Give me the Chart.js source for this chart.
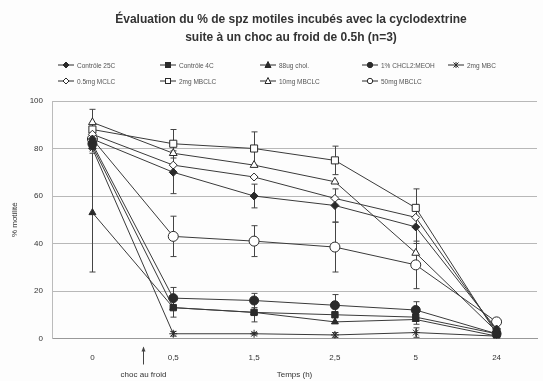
<!DOCTYPE html>
<html lang="fr">
<head>
<meta charset="utf-8"/>
<title>Évaluation du % de spz motiles</title>
<script src="https://cdn.jsdelivr.net/npm/chart.js"></script>
<style>
html, body { margin: 0; padding: 0; background: #fdfdfd; }
#wrap { position: relative; width: 543px; height: 381px; font-family: "Liberation Sans", Arial, sans-serif; }
#chart { position: absolute; left: 0; top: 0; }
#title { position: absolute; left: 0; top: 10px; width: 582px; text-align: center; font-weight: bold; font-size: 12px; line-height: 18px; color: #333; }
#legend { position: absolute; left: 58px; top: 57px; display: grid; grid-template-columns: 102px 100px 102px 86px 80px; grid-auto-rows: 16px; font-size: 6.5px; color: #555; }
#legend div { display: flex; align-items: center; white-space: nowrap; }
#legend svg { margin-right: 3px; }
</style>
</head>
<body>
<div id="wrap">
  <canvas id="chart" width="543" height="381"></canvas>
  <div id="title">Évaluation du % de spz motiles incubés avec la cyclodextrine<br>suite à un choc au froid de 0.5h (n=3)</div>
  <div id="legend"></div>
</div>
<script>
"use strict";
// temps (h)
const times = ["0", "0,5", "1,5", "2,5", "5", "24"];

const names = ["Contrôle 25C", "Contrôle 4C", "88ug chol.", "1% CHCL2:MEOH", "2mg MBC",
               "0.5mg MCLC", "2mg MBCLC", "10mg MBCLC", "50mg MBCLC"];

// % motilité
const controle25 = [84, 70, 60, 56, 47, 4];
const controle4  = [81, 13, 11, 10, 9, 2];
const chol88     = [53, 13, 11, 7, 8, 1];
const chcl2meoh  = [82, 17, 16, 14, 12, 2];
const mbc2       = [80, 2, 2, 1.5, 2.5, 1];
const mclc05     = [86, 73, 68, 59, 51, 3];
const mbclc2     = [88, 82, 80, 75, 55, 2];
const mbclc10    = [91, 78, 73, 66, 36, 3];
const mbclc50    = [84, 43, 41, 38.5, 31, 7];

// écart (+/-)
const errControle25 = [null, 9, 5, 7, 7, null];
const errControle4  = [null, 4, 4, 3, 3, null];
const errChol88     = [25, null, null, null, null, null];
const errChcl2meoh  = [null, 4.5, 3, 4.5, 3.5, null];
const errMbc2       = [null, 1, 0.5, 1, 2, null];
const errMbclc2     = [null, 6, 7, 6, 8, null];
const errMbclc10    = [5.5, null, null, null, null, null];
const errMbclc50    = [null, 8.5, 6.5, 10.5, 10, null];

const series = [controle25, controle4, chol88, chcl2meoh, mbc2, mclc05, mbclc2, mbclc10, mbclc50];
const errors = [errControle25, errControle4, errChol88, errChcl2meoh, errMbc2, null, errMbclc2, errMbclc10, errMbclc50];
const shapes = ["rectRot", "rect", "triangle", "circle", "star", "rectRot", "rect", "triangle", "circle"];
const filled = [true, true, true, true, true, false, false, false, false];
const radii  = [4, 4.5, 4, 4.5, 4, 4, 5, 4.5, 5];

const INK = "#2a2a2a";

const datasets = series.map((d, i) => ({
  label: names[i],
  data: d,
  errors: errors[i],
  borderColor: "#3a3a3a",
  borderWidth: 1,
  pointStyle: shapes[i],
  pointRadius: radii[i],
  pointBorderColor: INK,
  pointBorderWidth: 1,
  pointBackgroundColor: filled[i] ? INK : "#ffffff",
  tension: 0
}));

// html legend
function markerSvg(i){
  const c = filled[i] ? INK : "#fff";
  let m = "";
  if(shapes[i] === "rectRot") m = `<polygon points="8,1 11,4 8,7 5,4" fill="${c}" stroke="${INK}"/>`;
  if(shapes[i] === "rect") m = `<rect x="5.5" y="1.5" width="5" height="5" fill="${c}" stroke="${INK}"/>`;
  if(shapes[i] === "triangle") m = `<polygon points="8,0.5 11,6.5 5,6.5" fill="${c}" stroke="${INK}"/>`;
  if(shapes[i] === "circle") m = `<circle cx="8" cy="4" r="2.7" fill="${c}" stroke="${INK}"/>`;
  if(shapes[i] === "star") m = `<path d="M5.5 1.5L10.5 6.5M10.5 1.5L5.5 6.5M8 1V7" stroke="${INK}"/>`;
  return `<svg width="16" height="8"><line x1="0" y1="4" x2="16" y2="4" stroke="${INK}" stroke-width="1"/>${m}</svg>`;
}
const legendBox = document.getElementById("legend");
names.forEach((n, i) => {
  const el = document.createElement("div");
  el.innerHTML = markerSvg(i) + "<span>" + n + "</span>";
  legendBox.appendChild(el);
});

const errorBars = {
  id: "errorBars",
  beforeDatasetsDraw(chart){
    const ctx = chart.ctx, xs = chart.scales.x, ys = chart.scales.y;
    ctx.save();
    ctx.strokeStyle = "#444";
    ctx.lineWidth = 1;
    chart.data.datasets.forEach(ds => {
      if(!ds.errors) return;
      ds.errors.forEach((e, j) => {
        if(e == null) return;
        const px = Math.round(xs.getPixelForValue(j)) + 0.5;
        const top = ys.getPixelForValue(ds.data[j] + e);
        const bot = ys.getPixelForValue(Math.max(0, ds.data[j] - e));
        ctx.beginPath();
        ctx.moveTo(px, top); ctx.lineTo(px, bot);
        ctx.moveTo(px - 3, top); ctx.lineTo(px + 3, top);
        ctx.moveTo(px - 3, bot); ctx.lineTo(px + 3, bot);
        ctx.stroke();
      });
    });
    ctx.restore();
  }
};

const chocNote = {
  id: "chocNote",
  afterDraw(chart){
    const ctx = chart.ctx, xs = chart.scales.x;
    const p0 = xs.getPixelForValue(0), p1 = xs.getPixelForValue(1);
    const px = Math.round(p0 + 0.62 * (p1 - p0)) + 0.5;
    const yTop = chart.chartArea.bottom + 9;
    ctx.save();
    ctx.strokeStyle = "#444";
    ctx.fillStyle = "#444";
    ctx.lineWidth = 1;
    ctx.beginPath();
    ctx.moveTo(px, yTop); ctx.lineTo(px, yTop + 17);
    ctx.stroke();
    ctx.beginPath();
    ctx.moveTo(px, yTop - 1); ctx.lineTo(px - 2, yTop + 4); ctx.lineTo(px + 2, yTop + 4);
    ctx.closePath();
    ctx.fill();
    ctx.font = "8px 'Liberation Sans', Arial, sans-serif";
    ctx.textAlign = "center";
    ctx.textBaseline = "middle";
    ctx.fillStyle = "#333";
    ctx.fillText("choc au froid", px, chart.chartArea.bottom + 36);
    ctx.restore();
  }
};

new Chart(document.getElementById("chart"), {
  type: "line",
  data: { labels: times, datasets: datasets },
  options: {
    responsive: false,
    animation: false,
    layout: { padding: { top: 101, left: 0, right: 0, bottom: 0 } },
    plugins: {
      legend: { display: false },
      tooltip: { enabled: false }
    },
    scales: {
      x: {
        offset: true,
        grid: { display: false, drawTicks: false },
        border: { color: "#999" },
        ticks: { color: "#333", font: { size: 8, family: "'Liberation Sans', Arial, sans-serif" }, padding: 14 },
        title: { display: true, text: "Temps (h)", color: "#333", font: { size: 8, family: "'Liberation Sans', Arial, sans-serif" }, padding: { top: 0, bottom: 1 } },
        afterFit: s => { s.height = 42.5; }
      },
      y: {
        min: 0, max: 100,
        grid: { color: "#b8b8b8", drawTicks: false },
        border: { color: "#bbb" },
        ticks: { stepSize: 20, color: "#333", font: { size: 8, family: "'Liberation Sans', Arial, sans-serif" }, padding: 9 },
        title: { display: true, text: "% motilité", color: "#333", font: { size: 8, family: "'Liberation Sans', Arial, sans-serif" }, padding: { top: 10, bottom: 0 } },
        afterFit: s => { s.width = 52; }
      }
    }
  },
  plugins: [errorBars, chocNote]
});
</script>
</body>
</html>
